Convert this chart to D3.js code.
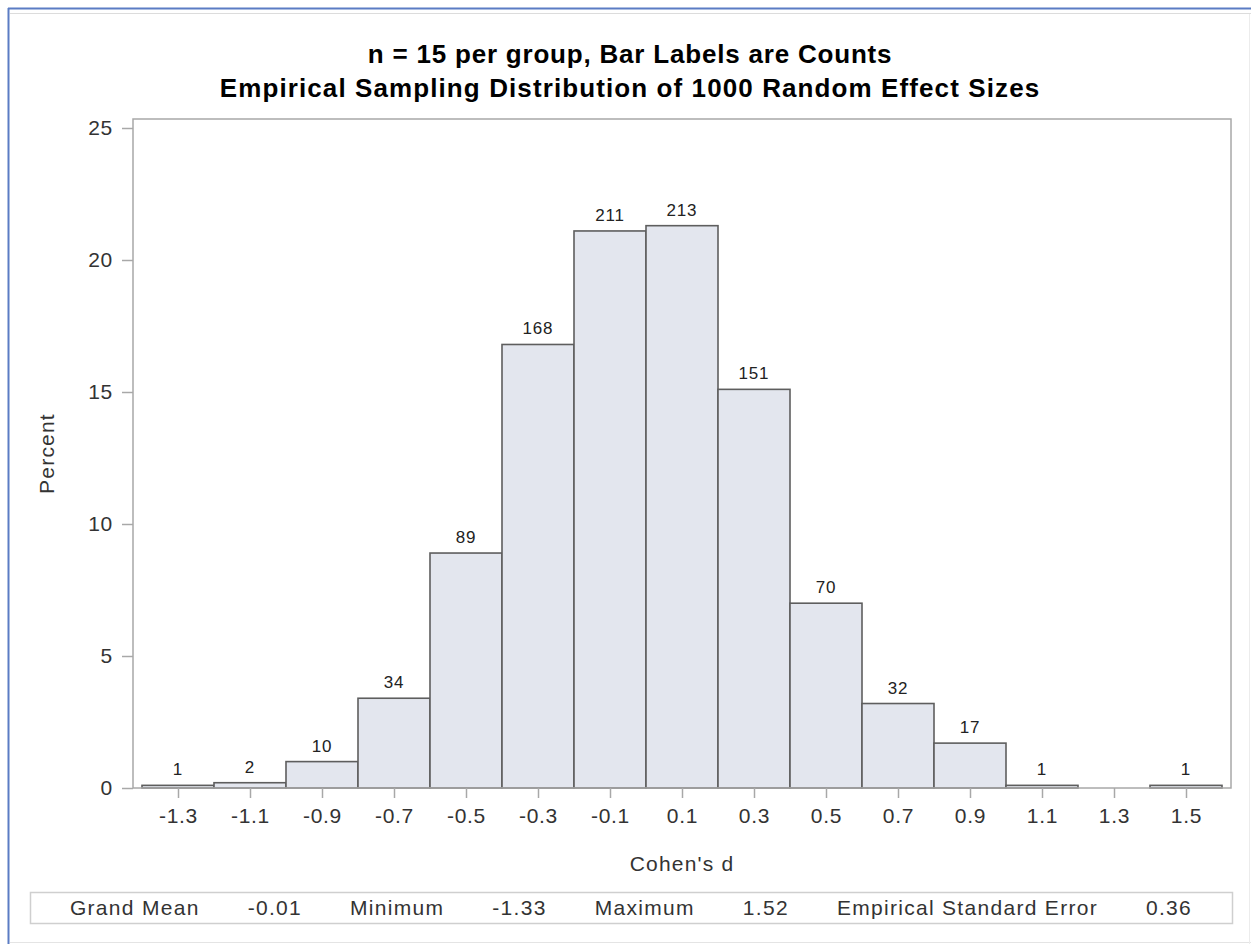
<!DOCTYPE html>
<html>
<head>
<meta charset="utf-8">
<script src="https://cdn.jsdelivr.net/npm/d3@7"></script>
<style>
  html, body { margin: 0; padding: 0; background: #fff; }
  svg { display: block; }
  text { font-family: "Liberation Sans", Arial, sans-serif; }
</style>
</head>
<body>
<svg id="chart" width="1251" height="944"></svg>
<script>
// Histogram of 1000 simulated Cohen's d values (bin width 0.2)
const binMids   = [-1.3, -1.1, -0.9, -0.7, -0.5, -0.3, -0.1, 0.1, 0.3, 0.5, 0.7, 0.9, 1.1, 1.3, 1.5];
const binCounts = [1, 2, 10, 34, 89, 168, 211, 213, 151, 70, 32, 17, 1, 0, 1];
const totalN = 1000;
const binWidth = 0.2;

const xTicks = [-1.3, -1.1, -0.9, -0.7, -0.5, -0.3, -0.1, 0.1, 0.3, 0.5, 0.7, 0.9, 1.1, 1.3, 1.5];
const yTicks = [0, 5, 10, 15, 20, 25];

const titleLines = [
  "n = 15 per group, Bar Labels are Counts",
  "Empirical Sampling Distribution of 1000 Random Effect Sizes"
];
const xLabel = "Cohen's d";
const yLabel = "Percent";

// Summary statistics shown in the inset table below the plot
const statNames  = ["Grand Mean", "Minimum", "Maximum", "Empirical Standard Error"];
const statValues = ["-0.01", "-1.33", "1.52", "0.36"];

const svg = d3.select("#chart");

// Outer page frame
svg.append("line").attr("x1", 8).attr("x2", 1251).attr("y1", 8.5).attr("y2", 8.5)
  .attr("stroke", "#5b7cc4").attr("stroke-width", 2);
svg.append("line").attr("x1", 8.5).attr("x2", 8.5).attr("y1", 8).attr("y2", 944)
  .attr("stroke", "#5b7cc4").attr("stroke-width", 2);
svg.append("line").attr("x1", 10).attr("x2", 1251).attr("y1", 13.5).attr("y2", 13.5)
  .attr("stroke", "#dcdcdc").attr("stroke-width", 1);
svg.append("line").attr("x1", 10).attr("x2", 1251).attr("y1", 942.5).attr("y2", 942.5)
  .attr("stroke", "#e4e4e4").attr("stroke-width", 1);
svg.append("line").attr("x1", 1249.5).attr("x2", 1249.5).attr("y1", 14).attr("y2", 944)
  .attr("stroke", "#ececec").attr("stroke-width", 1);

// Plot region
const plot = { left: 133, right: 1231, top: 119, bottom: 788 };
const x = d3.scaleLinear().domain([-1.425, 1.625]).range([plot.left, plot.right]);
const y = d3.scaleLinear().domain([0, 25]).range([plot.bottom, 128]);

// Plain hyphen for negative numbers
const fmt1 = v => (v < 0 ? "-" : "") + Math.abs(v).toFixed(1);

// Titles
svg.append("g").selectAll("text").data(titleLines).join("text")
  .attr("x", 630)
  .attr("y", (d, i) => 63 + i * 34)
  .attr("text-anchor", "middle")
  .attr("font-weight", "bold")
  .attr("font-size", 26)
  .attr("letter-spacing", (d, i) => i === 0 ? 0.8 : 1.1)
  .attr("fill", "#000")
  .text(d => d);

// Bars
const bins = binMids.map((m, i) => ({ mid: m, count: binCounts[i], pct: binCounts[i] / totalN * 100 }));
const barG = svg.append("g");
barG.selectAll("rect").data(bins.filter(d => d.count > 0)).join("rect")
  .attr("x", d => x(d.mid - binWidth / 2))
  .attr("width", d => x(d.mid + binWidth / 2) - x(d.mid - binWidth / 2))
  .attr("y", d => y(d.pct))
  .attr("height", d => y(0) - y(d.pct))
  .attr("fill", "#e3e6ee")
  .attr("stroke", "#5e5e5e")
  .attr("stroke-width", 1.6);

// Count labels above bars
barG.selectAll("text").data(bins.filter(d => d.count > 0)).join("text")
  .attr("x", d => x(d.mid))
  .attr("y", d => y(d.pct) - 10)
  .attr("text-anchor", "middle")
  .attr("font-size", 17)
  .attr("letter-spacing", 0.8)
  .attr("fill", "#222")
  .text(d => d.count);

// Plot frame (left, top, right, bottom)
svg.append("rect")
  .attr("x", plot.left).attr("y", plot.top)
  .attr("width", plot.right - plot.left).attr("height", plot.bottom - plot.top)
  .attr("fill", "none").attr("stroke", "#a8a8a8").attr("stroke-width", 1.5);

// Axes
const xAxis = d3.axisBottom(x).tickValues(xTicks).tickSize(10).tickPadding(10)
  .tickFormat(fmt1);
const gx = svg.append("g").attr("transform", `translate(0,${plot.bottom})`).call(xAxis);
gx.select(".domain").remove();
gx.selectAll(".tick line").attr("stroke", "#a8a8a8").attr("stroke-width", 1.5);
gx.selectAll(".tick text")
  .attr("font-family", "Liberation Sans, Arial, sans-serif")
  .attr("font-size", 21).attr("letter-spacing", 0.7).attr("fill", "#333")
  .attr("dy", "0.71em");

const yAxis = d3.axisLeft(y).tickValues(yTicks).tickSize(11).tickPadding(9)
  .tickFormat(d3.format("d"));
const gy = svg.append("g").attr("transform", `translate(${plot.left},0)`).call(yAxis);
gy.select(".domain").remove();
gy.selectAll(".tick line").attr("stroke", "#a8a8a8").attr("stroke-width", 1.5);
gy.selectAll(".tick text")
  .attr("font-family", "Liberation Sans, Arial, sans-serif")
  .attr("font-size", 21).attr("letter-spacing", 0.7).attr("fill", "#333");

// Axis labels
svg.append("text")
  .attr("x", (plot.left + plot.right) / 2).attr("y", 871)
  .attr("text-anchor", "middle")
  .attr("font-size", 21).attr("letter-spacing", 1.2).attr("fill", "#333")
  .text(xLabel);
svg.append("text")
  .attr("transform", `translate(54,${(plot.top + plot.bottom) / 2}) rotate(-90)`)
  .attr("text-anchor", "middle")
  .attr("font-size", 21).attr("letter-spacing", 1.2).attr("fill", "#333")
  .text(yLabel);

// Statistics inset
const box = { left: 30, right: 1232, top: 892, bottom: 923 };
svg.append("rect")
  .attr("x", box.left + 0.5).attr("y", box.top + 0.5)
  .attr("width", box.right - box.left).attr("height", box.bottom - box.top)
  .attr("fill", "none").attr("stroke", "#cfcfcf").attr("stroke-width", 1.5);

const cells = [];
statNames.forEach((n, i) => { cells.push(n); cells.push(statValues[i]); });
const cellG = svg.append("g");
const cellText = cellG.selectAll("text").data(cells).join("text")
  .attr("y", 915)
  .attr("font-size", 21).attr("letter-spacing", 1.3).attr("fill", "#333")
  .text(d => d);
const widths = cellText.nodes().map(n => n.getComputedTextLength());
const gap = 48;
const total = d3.sum(widths) + gap * (cells.length - 1);
let cx = (box.left + box.right) / 2 - total / 2;
cellText.each(function (d, i) {
  d3.select(this).attr("x", cx);
  cx += widths[i] + gap;
});
</script>
</body>
</html>
